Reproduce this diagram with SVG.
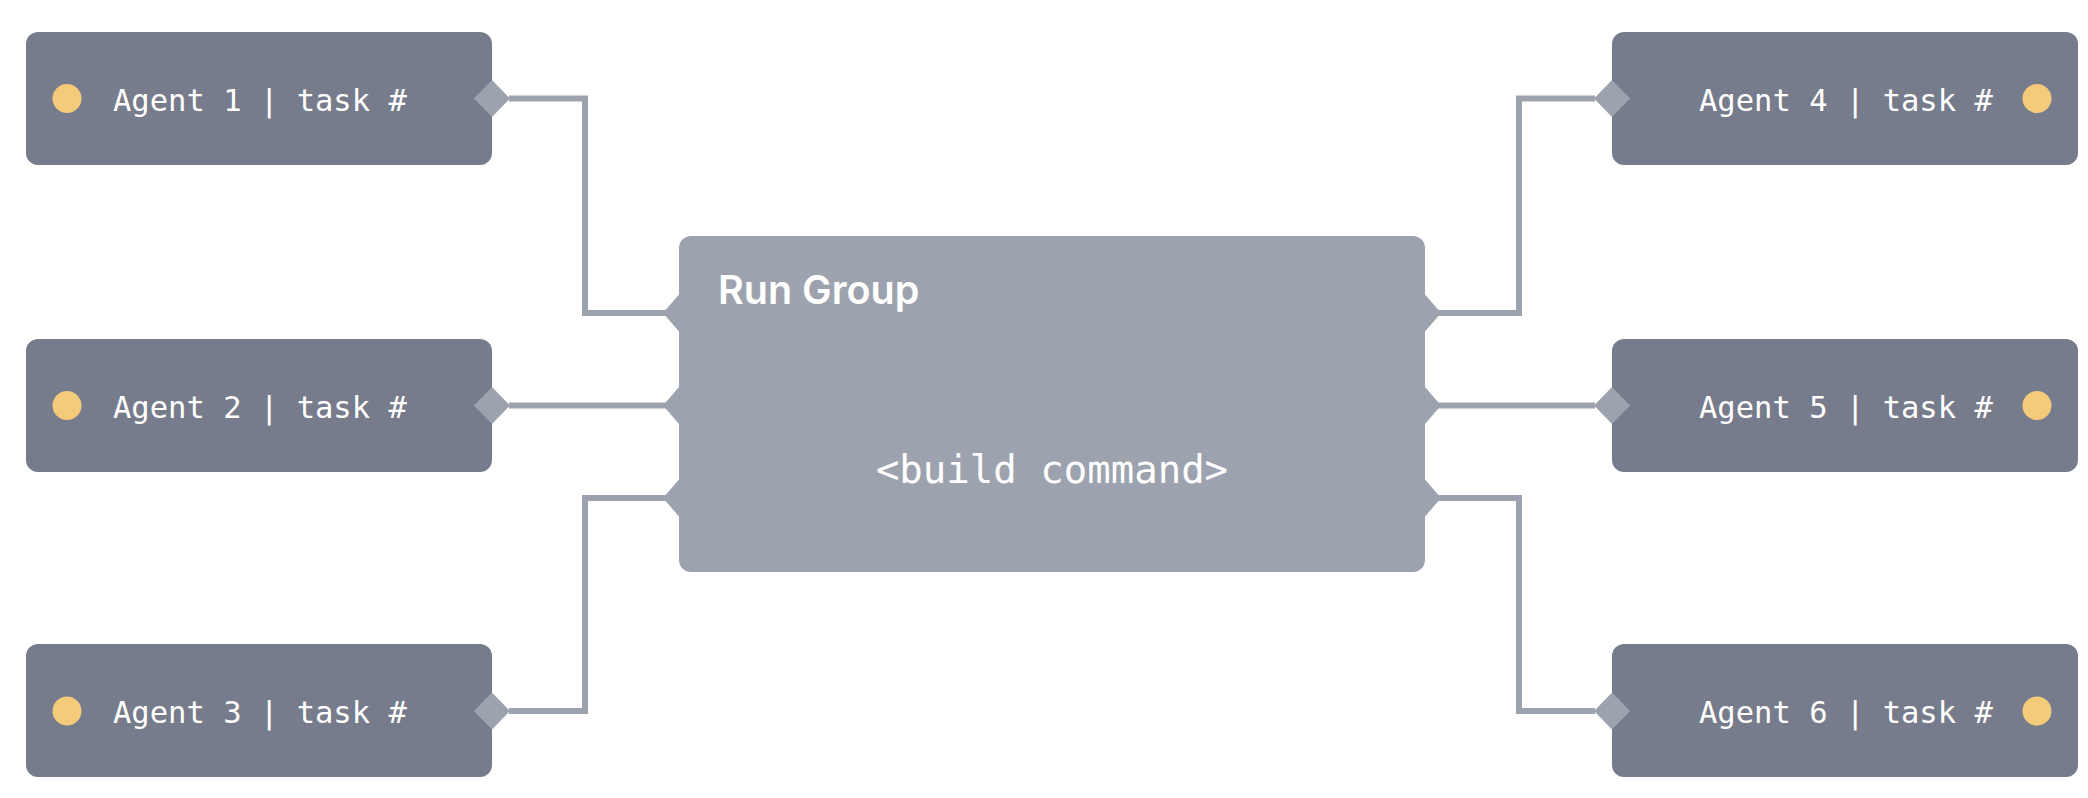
<svg xmlns="http://www.w3.org/2000/svg" width="2088" height="798" viewBox="0 0 2088 798">
  <style>
    .agent { fill: #767c8b; }
    .group { fill: #9da3ae; }
    .port { fill: #9da3ae; }
    .dot { fill: #f3cb7a; }
    .conn { fill: none; stroke: #9da3ae; stroke-width: 6; stroke-linejoin: miter; }
    .alabel { font-family: "DejaVu Sans Mono", "Liberation Mono", monospace; font-size: 30.5px; fill: #ffffff; }
    .cmd { font-family: "DejaVu Sans Mono", "Liberation Mono", monospace; font-size: 39px; fill: #ffffff; }
    .title { font-family: Inter, "Noto Sans", "Liberation Sans", sans-serif; font-size: 39.5px; font-weight: 600; fill: #ffffff; }
  </style>
  <defs>
    <polygon id="portA" points="-18,0 0,-18.5 18,0 0,18.5"/>
    <polygon id="portG" points="-16,0 0,-18.5 16,0 0,18.5"/>
  </defs>
  <rect width="2088" height="798" fill="#ffffff"/>

  <g id="connectors">
    <path class="conn" d="M509 98.5 H585 V313 H666"/>
    <path class="conn" d="M509 405.5 H666"/>
    <path class="conn" d="M509 711 H585 V498 H666"/>
    <path class="conn" d="M1438 313 H1519 V98.5 H1595"/>
    <path class="conn" d="M1438 405.5 H1595"/>
    <path class="conn" d="M1438 498 H1519 V711 H1595"/>
  </g>

  <g id="run-group">
    <rect class="group" x="679" y="236" width="746" height="336" rx="12"/>
    <use href="#portG" class="port" x="679" y="313"/>
    <use href="#portG" class="port" x="679" y="405.5"/>
    <use href="#portG" class="port" x="679" y="498"/>
    <use href="#portG" class="port" x="1425" y="313"/>
    <use href="#portG" class="port" x="1425" y="405.5"/>
    <use href="#portG" class="port" x="1425" y="498"/>
    <text class="title" x="718" y="304">Run Group</text>
    <text class="cmd" x="1052" y="483" text-anchor="middle">&lt;build command&gt;</text>
  </g>

  <g id="agent1">
    <rect class="agent" x="26" y="32" width="466" height="133" rx="12"/>
    <circle class="dot" cx="67" cy="98.5" r="14.5"/>
    <text class="alabel" x="113" y="111">Agent 1 | task #</text>
    <use href="#portA" class="port" x="492" y="98.5"/>
  </g>
  <g id="agent2">
    <rect class="agent" x="26" y="339" width="466" height="133" rx="12"/>
    <circle class="dot" cx="67" cy="405.5" r="14.5"/>
    <text class="alabel" x="113" y="418">Agent 2 | task #</text>
    <use href="#portA" class="port" x="492" y="405.5"/>
  </g>
  <g id="agent3">
    <rect class="agent" x="26" y="644" width="466" height="133" rx="12"/>
    <circle class="dot" cx="67" cy="711" r="14.5"/>
    <text class="alabel" x="113" y="723">Agent 3 | task #</text>
    <use href="#portA" class="port" x="492" y="711"/>
  </g>
  <g id="agent4">
    <rect class="agent" x="1612" y="32" width="466" height="133" rx="12"/>
    <circle class="dot" cx="2037" cy="98.5" r="14.5"/>
    <text class="alabel" x="1699" y="111">Agent 4 | task #</text>
    <use href="#portA" class="port" x="1612" y="98.5"/>
  </g>
  <g id="agent5">
    <rect class="agent" x="1612" y="339" width="466" height="133" rx="12"/>
    <circle class="dot" cx="2037" cy="405.5" r="14.5"/>
    <text class="alabel" x="1699" y="418">Agent 5 | task #</text>
    <use href="#portA" class="port" x="1612" y="405.5"/>
  </g>
  <g id="agent6">
    <rect class="agent" x="1612" y="644" width="466" height="133" rx="12"/>
    <circle class="dot" cx="2037" cy="711" r="14.5"/>
    <text class="alabel" x="1699" y="723">Agent 6 | task #</text>
    <use href="#portA" class="port" x="1612" y="711"/>
  </g>
</svg>
